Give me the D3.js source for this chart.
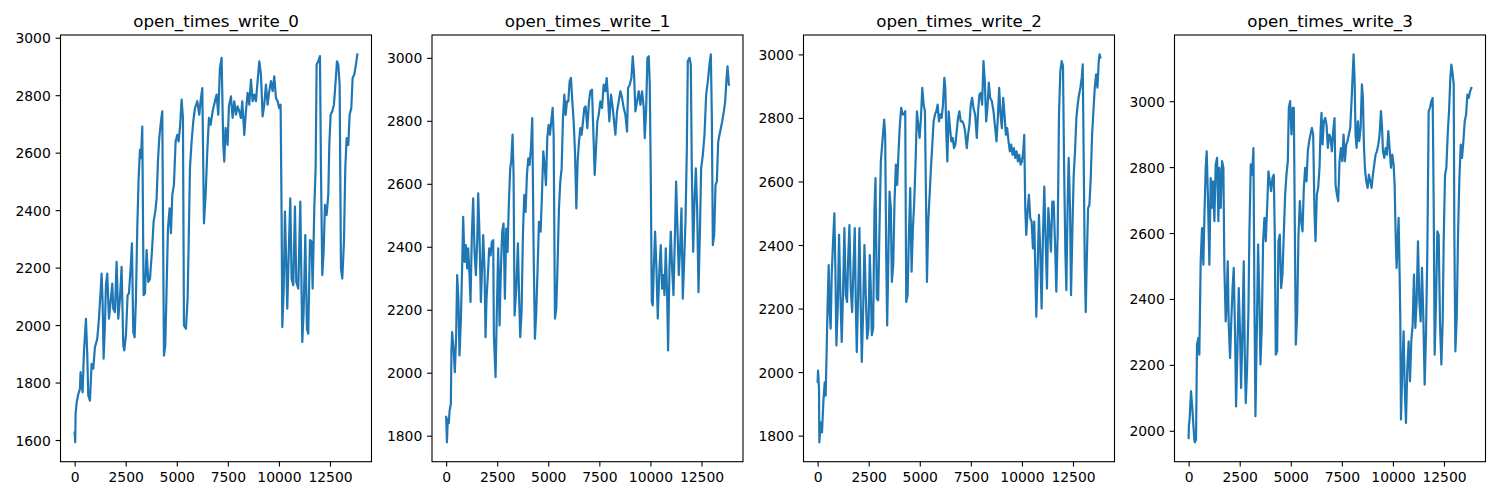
<!DOCTYPE html>
<html>
<head>
<meta charset="utf-8">
<script src="https://cdn.jsdelivr.net/npm/d3@7"></script>
<style>
  html, body { margin: 0; padding: 0; background: #ffffff; }
  svg { display: block; }
  text { font-family: "DejaVu Sans", sans-serif; fill: #000; }
</style>
</head>
<body>
<svg id="chart" width="1500" height="500"></svg>
<script>
// ---------------- DATA ----------------
const titles = ["open_times_write_0", "open_times_write_1", "open_times_write_2", "open_times_write_3"];

const xTicks = [0, 2500, 5000, 7500, 10000, 12500];
const yTicks0 = [1600, 1800, 2000, 2200, 2400, 2600, 2800, 3000];
const yTicks1 = [1800, 2000, 2200, 2400, 2600, 2800, 3000];
const yTicks2 = [1800, 2000, 2200, 2400, 2600, 2800, 3000];
const yTicks3 = [2000, 2200, 2400, 2600, 2800, 3000];

// [sample index, open time] pairs
const series0 = [[0,1626],[30,1592],[47,1691],[100,1731],[180,1760],[260,1778],[290,1836],[390,1766],[455,1906],[553,2022],[620,1894],[667,1755],[750,1737],[830,1865],[912,1848],[994,1923],[1108,1952],[1190,2022],[1270,2115],[1320,2179],[1370,2080],[1418,1883],[1483,1999],[1532,2139],[1597,2179],[1680,2022],[1760,2080],[1842,2144],[1891,2057],[1973,2045],[2054,2220],[2136,2022],[2218,2092],[2299,2203],[2381,1929],[2430,1912],[2511,1964],[2593,2104],[2658,2110],[2740,2197],[2805,2284],[2870,1976],[2936,1958],[3001,2092],[3066,2336],[3132,2511],[3197,2610],[3246,2581],[3311,2691],[3376,2104],[3442,2110],[3523,2261],[3605,2150],[3686,2160],[3784,2255],[3866,2360],[3948,2395],[4013,2441],[4078,2569],[4143,2651],[4225,2709],[4290,2744],[4372,1894],[4437,1930],[4502,2127],[4568,2336],[4649,2406],[4715,2320],[4780,2453],[4861,2488],[4943,2639],[5025,2662],[5090,2639],[5155,2686],[5237,2785],[5302,2720],[5351,1999],[5449,1987],[5530,2092],[5580,2278],[5645,2546],[5726,2639],[5808,2709],[5890,2755],[6004,2779],[6102,2732],[6167,2779],[6249,2825],[6298,2546],[6330,2354],[6412,2453],[6493,2604],[6575,2721],[6656,2697],[6755,2744],[6869,2779],[6950,2802],[7031,2732],[7113,2895],[7194,2930],[7276,2627],[7325,2569],[7390,2686],[7488,2627],[7553,2761],[7651,2796],[7733,2721],[7815,2779],[7896,2732],[7978,2761],[8059,2744],[8141,2721],[8206,2779],[8304,2662],[8386,2744],[8467,2808],[8549,2767],[8631,2854],[8712,2779],[8794,2802],[8875,2779],[8957,2849],[9039,2918],[9120,2872],[9202,2726],[9283,2767],[9365,2837],[9446,2767],[9528,2814],[9610,2849],[9691,2814],[9773,2866],[9855,2790],[9936,2779],[10018,2755],[10083,2767],[10132,2371],[10165,1993],[10230,2115],[10295,2395],[10360,2209],[10409,2057],[10491,2278],[10556,2441],[10622,2162],[10703,2139],[10785,2412],[10850,2150],[10948,2127],[11046,2430],[11144,1941],[11209,2045],[11291,2313],[11372,1987],[11437,1970],[11519,2296],[11601,2290],[11650,2127],[11731,2406],[11797,2546],[11846,2907],[11927,2918],[12009,2936],[12058,2546],[12123,2174],[12188,2255],[12254,2418],[12335,2383],[12417,2453],[12466,2627],[12531,2732],[12613,2744],[12694,2767],[12776,2849],[12841,2918],[12906,2907],[12972,2837],[13037,2197],[13102,2162],[13184,2290],[13249,2546],[13314,2651],[13396,2627],[13461,2732],[13543,2755],[13608,2860],[13690,2872],[13771,2907],[13840,2942]];

const series1 = [[0,1860],[40,1779],[80,1853],[130,1840],[170,1880],[230,1900],[262,2076],[294,2129],[376,2065],[425,2002],[490,2118],[540,2310],[605,2225],[654,2055],[719,2161],[785,2341],[834,2495],[899,2352],[964,2405],[1030,2331],[1079,2395],[1144,2310],[1193,2225],[1258,2437],[1324,2554],[1389,2384],[1455,2310],[1520,2416],[1569,2570],[1634,2437],[1700,2225],[1765,2341],[1814,2437],[1879,2331],[1928,2113],[1977,2235],[2043,2310],[2108,2395],[2174,2373],[2239,2416],[2304,2421],[2337,2118],[2419,1986],[2484,2203],[2549,2395],[2615,2150],[2680,2331],[2745,2448],[2811,2474],[2876,2235],[2941,2458],[3007,2384],[3072,2543],[3137,2649],[3186,2671],[3252,2756],[3301,2628],[3350,2182],[3432,2267],[3513,2411],[3579,2225],[3628,2113],[3693,2193],[3758,2437],[3824,2564],[3889,2511],[3955,2628],[4020,2681],[4085,2660],[4151,2713],[4216,2809],[4281,2395],[4347,2108],[4412,2193],[4478,2331],[4543,2479],[4625,2448],[4690,2564],[4755,2703],[4821,2660],[4886,2596],[4951,2745],[5017,2787],[5082,2756],[5147,2798],[5213,2841],[5262,2756],[5327,2172],[5392,2203],[5458,2352],[5523,2522],[5588,2607],[5654,2649],[5719,2809],[5785,2883],[5850,2819],[5915,2862],[5981,2862],[6046,2926],[6111,2936],[6177,2862],[6242,2798],[6307,2703],[6373,2522],[6438,2671],[6504,2734],[6569,2777],[6634,2756],[6700,2798],[6765,2841],[6830,2846],[6912,2777],[6994,2862],[7059,2894],[7141,2899],[7206,2766],[7272,2628],[7337,2713],[7402,2798],[7468,2819],[7549,2862],[7631,2841],[7713,2915],[7794,2894],[7860,2936],[7925,2873],[7990,2798],[8072,2883],[8154,2841],[8219,2798],[8285,2756],[8366,2830],[8448,2862],[8530,2894],[8611,2873],[8693,2841],[8775,2819],[8857,2766],[8906,2904],[8987,2915],[9069,2936],[9134,3005],[9200,2947],[9265,2830],[9347,2862],[9428,2894],[9510,2851],[9592,2894],[9673,2841],[9722,2745],[9788,2830],[9853,3000],[9918,3005],[9968,2915],[10017,2628],[10066,2225],[10115,2214],[10164,2331],[10229,2448],[10295,2331],[10360,2172],[10442,2331],[10507,2405],[10572,2267],[10638,2310],[10687,2246],[10752,2395],[10818,2246],[10866,2071],[10932,2331],[10997,2448],[11062,2331],[11128,2246],[11193,2416],[11258,2607],[11324,2458],[11389,2310],[11454,2395],[11520,2522],[11585,2235],[11651,2352],[11716,2479],[11781,2703],[11830,2989],[11912,3000],[11977,2979],[12026,2649],[12092,2384],[12157,2543],[12223,2649],[12288,2522],[12353,2256],[12419,2437],[12484,2649],[12566,2692],[12647,2756],[12729,2883],[12811,2926],[12892,2979],[12958,3011],[13007,2809],[13056,2405],[13121,2437],[13187,2596],[13252,2607],[13318,2734],[13383,2756],[13448,2777],[13513,2798],[13595,2830],[13660,2862],[13726,2936],[13775,2973],[13840,2915]];

const series2 = [[0,1970],[20,2005],[67,1947],[83,1779],[149,1842],[214,1810],[280,1905],[345,1968],[394,1926],[443,2074],[492,2221],[541,2337],[590,2189],[639,2137],[689,2305],[754,2410],[819,2500],[868,2326],[918,2084],[983,2200],[1048,2432],[1114,2242],[1179,2095],[1245,2253],[1310,2453],[1376,2242],[1441,2221],[1490,2347],[1556,2463],[1621,2263],[1687,2189],[1752,2326],[1817,2453],[1866,2221],[1916,2063],[1981,2242],[2046,2453],[2112,2200],[2161,2032],[2226,2189],[2292,2400],[2357,2242],[2423,2105],[2488,2137],[2553,2368],[2603,2263],[2652,2116],[2717,2137],[2783,2516],[2832,2611],[2897,2232],[2963,2226],[3028,2453],[3094,2663],[3159,2716],[3224,2768],[3257,2795],[3306,2747],[3355,2379],[3404,2147],[3453,2326],[3519,2568],[3584,2516],[3633,2284],[3699,2337],[3764,2537],[3830,2653],[3895,2589],[3961,2695],[4026,2779],[4091,2832],[4157,2811],[4222,2811],[4288,2821],[4337,2221],[4402,2242],[4468,2432],[4533,2579],[4599,2316],[4664,2453],[4729,2537],[4795,2663],[4860,2821],[4926,2779],[4991,2737],[5057,2800],[5122,2895],[5188,2842],[5253,2821],[5318,2474],[5351,2284],[5416,2474],[5482,2558],[5547,2642],[5613,2716],[5678,2789],[5744,2811],[5809,2821],[5874,2842],[5940,2789],[6005,2811],[6071,2800],[6136,2842],[6202,2926],[6251,2895],[6300,2747],[6349,2663],[6414,2821],[6480,2768],[6545,2726],[6611,2737],[6676,2705],[6742,2716],[6807,2758],[6872,2800],[6938,2821],[7003,2789],[7087,2789],[7153,2779],[7218,2758],[7300,2705],[7365,2747],[7431,2779],[7496,2842],[7562,2863],[7627,2832],[7709,2811],[7791,2737],[7856,2821],[7922,2874],[7987,2879],[8053,2842],[8118,2979],[8183,2916],[8249,2789],[8314,2832],[8380,2911],[8445,2863],[8527,2853],[8609,2821],[8690,2768],[8756,2726],[8821,2800],[8887,2895],[8952,2811],[9018,2768],[9083,2863],[9148,2811],[9214,2747],[9279,2768],[9345,2726],[9410,2695],[9476,2716],[9541,2684],[9607,2705],[9672,2674],[9737,2695],[9803,2663],[9868,2684],[9934,2653],[9999,2663],[10065,2695],[10114,2747],[10163,2516],[10212,2432],[10277,2505],[10343,2558],[10408,2484],[10474,2474],[10539,2389],[10604,2474],[10653,2326],[10703,2174],[10768,2326],[10833,2495],[10899,2379],[10964,2200],[11030,2432],[11095,2584],[11161,2410],[11226,2263],[11292,2516],[11357,2453],[11422,2379],[11488,2537],[11553,2537],[11619,2410],[11684,2253],[11750,2432],[11815,2811],[11881,2947],[11946,2979],[12011,2963],[12061,2663],[12126,2379],[12175,2258],[12240,2537],[12289,2674],[12355,2516],[12404,2242],[12469,2442],[12535,2621],[12600,2695],[12666,2800],[12731,2842],[12797,2874],[12862,2895],[12928,2926],[12977,2969],[13026,2663],[13075,2347],[13124,2189],[13173,2347],[13239,2516],[13304,2526],[13369,2611],[13435,2747],[13500,2821],[13566,2895],[13631,2937],[13697,2895],[13762,2979],[13800,3000],[13840,2990]];

const series3 = [[0,1978],[10,2013],[51,2039],[116,2120],[181,2069],[230,2018],[279,1973],[300,1965],[361,1973],[410,2261],[476,2282],[524,2231],[590,2514],[655,2615],[721,2504],[770,2646],[835,2798],[884,2848],[949,2697],[1015,2504],[1080,2767],[1129,2676],[1195,2757],[1260,2636],[1325,2808],[1391,2828],[1456,2636],[1505,2798],[1570,2676],[1636,2818],[1701,2798],[1750,2494],[1815,2332],[1864,2393],[1914,2514],[1962,2322],[2028,2221],[2093,2342],[2159,2443],[2208,2494],[2273,2292],[2322,2074],[2387,2241],[2453,2433],[2518,2292],[2567,2130],[2632,2292],[2698,2514],[2747,2231],[2796,2084],[2861,2190],[2927,2362],[2976,2605],[3041,2808],[3107,2777],[3172,2858],[3221,2393],[3270,2044],[3335,2292],[3400,2565],[3466,2393],[3515,2201],[3580,2312],[3645,2575],[3711,2646],[3776,2575],[3842,2676],[3907,2787],[3972,2757],[4038,2727],[4103,2767],[4168,2777],[4217,2595],[4266,2231],[4332,2241],[4397,2575],[4462,2595],[4528,2433],[4593,2474],[4658,2595],[4724,2717],[4789,2777],[4855,2818],[4904,2980],[4969,3000],[5034,2899],[5100,2980],[5149,2980],[5198,2616],[5247,2261],[5312,2352],[5377,2595],[5443,2697],[5508,2636],[5574,2605],[5639,2737],[5704,2798],[5770,2757],[5835,2848],[5900,2879],[5966,2899],[6031,2919],[6097,2899],[6162,2656],[6211,2575],[6276,2717],[6341,2737],[6407,2798],[6456,2909],[6505,2965],[6554,2869],[6619,2939],[6685,2949],[6750,2929],[6815,2858],[6881,2899],[6946,2889],[7011,2848],[7077,2909],[7142,2949],[7191,2747],[7257,2717],[7322,2697],[7387,2818],[7453,2858],[7518,2818],[7583,2899],[7649,2818],[7714,2868],[7779,2879],[7845,2899],[7910,2919],[7975,3000],[8024,3071],[8074,3142],[8122,3071],[8172,2899],[8221,2858],[8286,2939],[8351,2879],[8417,2919],[8482,3051],[8531,3010],[8580,2868],[8629,2798],[8694,2757],[8760,2737],[8825,2777],[8890,2757],[8956,2737],[9021,2777],[9087,2808],[9152,2838],[9217,2848],[9283,2868],[9348,2899],[9413,2970],[9462,2929],[9511,2848],[9577,2828],[9642,2858],[9708,2838],[9773,2909],[9838,2858],[9904,2798],[9969,2838],[10034,2808],[10084,2747],[10133,2595],[10181,2494],[10230,2575],[10279,2646],[10328,2474],[10361,2342],[10394,2034],[10459,2190],[10525,2302],[10574,2140],[10639,2024],[10704,2190],[10770,2271],[10835,2150],[10900,2271],[10966,2322],[11031,2474],[11097,2312],[11162,2393],[11227,2575],[11293,2393],[11358,2332],[11423,2494],[11489,2342],[11554,2140],[11619,2292],[11685,2545],[11750,2970],[11815,2980],[11881,3000],[11946,3010],[11995,2697],[12044,2231],[12110,2393],[12175,2605],[12240,2595],[12306,2322],[12371,2201],[12436,2332],[12485,2575],[12551,2777],[12616,2798],[12681,2899],[12747,2970],[12812,3071],[12861,3111],[12927,3081],[12976,3051],[13008,2595],[13057,2241],[13123,2342],[13188,2595],[13254,2767],[13319,2868],[13384,2828],[13450,2879],[13515,2939],[13580,2959],[13645,3020],[13711,3010],[13776,3030],[13840,3040]];

const seriesList = [series0, series1, series2, series3];
const yTickSets = [yTicks0, yTicks1, yTicks2, yTicks3];

// ---------------- LAYOUT ----------------
const svg = d3.select("#chart");
const panelLefts = [60.5, 432, 803.5, 1174.5];
const panelWidth = 311;
const plotTop = 35, plotBottom = 461.7;
const lineColor = "#1f77b4";
const tickLen = 4.86, tickPad = 4.86;
const fontTick = 13.9, fontTitle = 16.7;

function padExtent(arr) {
  const [a, b] = d3.extent(arr);
  const m = (b - a) * 0.05;
  return [a - m, b + m];
}

titles.forEach((title, i) => {
  const left = panelLefts[i];
  const right = left + panelWidth;
  const pts = seriesList[i];

  const xScale = d3.scaleLinear().domain(padExtent(pts.map(d => d[0]))).range([left, right]);
  const yScale = d3.scaleLinear().domain(padExtent(pts.map(d => d[1]))).range([plotBottom, plotTop]);

  const g = svg.append("g");
  const clipId = "clip" + i;
  g.append("clipPath").attr("id", clipId)
    .append("rect").attr("x", left).attr("y", plotTop)
    .attr("width", panelWidth).attr("height", plotBottom - plotTop);

  const line = d3.line().x(d => xScale(d[0])).y(d => yScale(d[1]));
  g.append("path")
    .datum(pts)
    .attr("clip-path", `url(#${clipId})`)
    .attr("fill", "none")
    .attr("stroke", lineColor)
    .attr("stroke-width", 2.2)
    .attr("stroke-linejoin", "round")
    .attr("stroke-linecap", "square")
    .attr("d", line);

  // x axis
  const xAxis = d3.axisBottom(xScale).tickValues(xTicks).tickSize(tickLen).tickPadding(tickPad).tickFormat(d3.format("d"));
  const xg = g.append("g").attr("transform", `translate(0,${plotBottom})`).call(xAxis);
  xg.select(".domain").remove();
  xg.selectAll(".tick line").attr("stroke", "#000").attr("stroke-width", 1.1);
  xg.selectAll(".tick text").attr("font-size", fontTick).attr("font-family", "DejaVu Sans").attr("fill", "#000").attr("dy", "0.73em");

  // y axis
  const yAxis = d3.axisLeft(yScale).tickValues(yTickSets[i]).tickSize(tickLen).tickPadding(tickPad).tickFormat(d3.format("d"));
  const yg = g.append("g").attr("transform", `translate(${left},0)`).call(yAxis);
  yg.select(".domain").remove();
  yg.selectAll(".tick line").attr("stroke", "#000").attr("stroke-width", 1.1);
  yg.selectAll(".tick text").attr("font-size", fontTick).attr("font-family", "DejaVu Sans").attr("fill", "#000").attr("dy", "0.36em");

  // frame
  g.append("rect")
    .attr("x", left).attr("y", plotTop)
    .attr("width", panelWidth).attr("height", plotBottom - plotTop)
    .attr("fill", "none").attr("stroke", "#000").attr("stroke-width", 1.1);

  // title
  g.append("text")
    .attr("x", (left + right) / 2).attr("y", plotTop - 8.3)
    .attr("text-anchor", "middle")
    .attr("font-size", fontTitle)
    .text(title);
});
</script>
</body>
</html>
